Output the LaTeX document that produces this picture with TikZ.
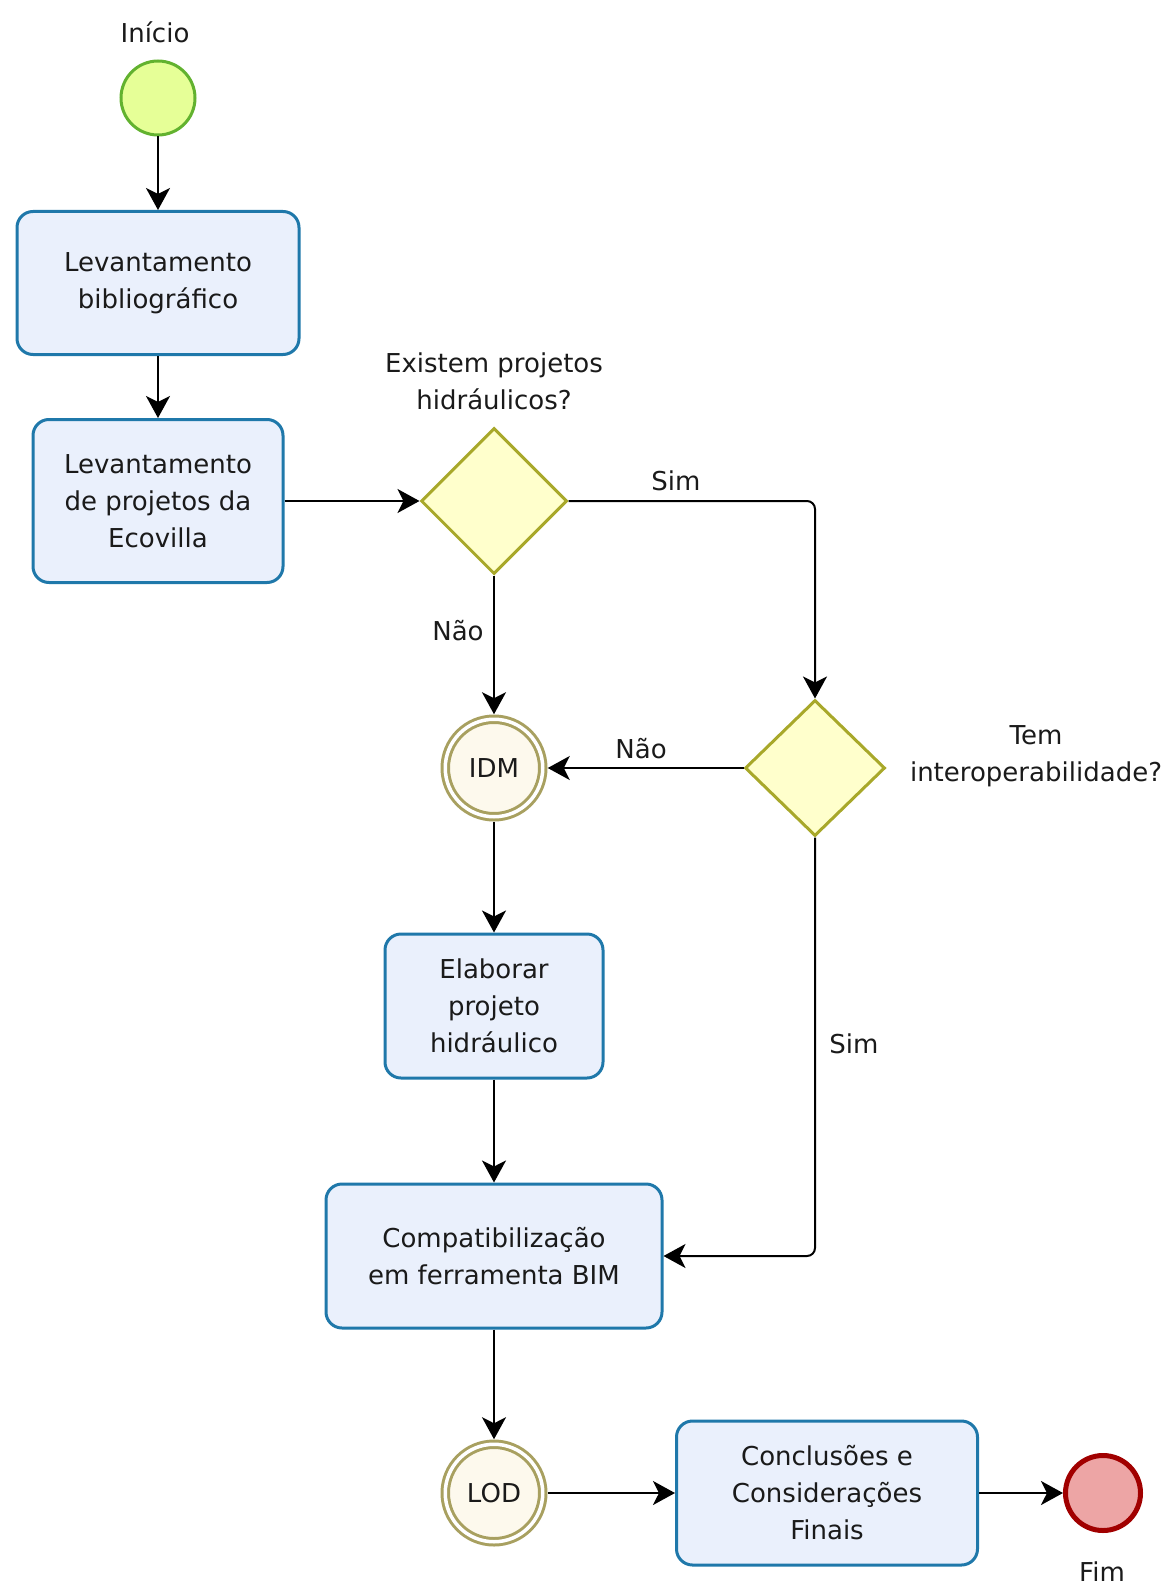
\documentclass[tikz,border=0pt]{standalone}
\usepackage{fontspec}
\setmainfont{DejaVu Sans}
\usepackage{xcolor}
\usetikzlibrary{arrows.meta,shapes.geometric}
\definecolor{TaskLine}{HTML}{1F78AA}
\definecolor{TaskFill}{HTML}{EAF0FC}
\definecolor{StartLine}{HTML}{62B22F}
\definecolor{StartFill}{HTML}{E6FF97}
\definecolor{EndLine}{HTML}{A10000}
\definecolor{EndFill}{HTML}{EDA5A5}
\definecolor{GateLine}{HTML}{A8A82A}
\definecolor{GateFill}{HTML}{FFFFCC}
\definecolor{EventLine}{HTML}{A8A060}
\definecolor{EventFill}{HTML}{FDF9ED}
\definecolor{Ink}{HTML}{1A1A1A}

\begin{document}
\begin{tikzpicture}[x=1pt,y=-1pt,
  task/.style={draw=TaskLine,fill=TaskFill,line width=3pt,rounded corners=16pt,
    align=center,text=Ink,font={\fontsize{26}{37}\selectfont}},
  gateway/.style={diamond,draw=GateLine,fill=GateFill,line width=3pt,inner sep=0pt},
  startev/.style={circle,draw=StartLine,fill=StartFill,line width=3pt,
    minimum size=74pt,inner sep=0pt},
  endev/.style={circle,draw=EndLine,fill=EndFill,line width=5pt,
    minimum size=75pt,inner sep=0pt},
  midev/.style={circle,draw=EventLine,fill=EventFill,line width=3pt,double=white,
    double distance=3.5pt,minimum size=97.5pt,inner sep=0pt,outer sep=5pt,
    text=Ink,font={\fontsize{26}{37}\selectfont}},
  arr/.style={-{Stealth[length=22pt,width=24pt,inset=6pt]},line width=2pt,draw=black},
  lbl/.style={align=center,text=Ink,font={\fontsize{26}{37}\selectfont}}
]
\useasboundingbox (0,0) rectangle (1173,1589);

% Start and literature survey.
\node[startev] (inicio) at (158,98) {};
\node[lbl] (linicio) at (155,32) {Início};
\node[task,minimum width=282pt,minimum height=143pt] (biblio) at (158,283)
  {Levantamento\\bibliográfico};
\node[task,minimum width=250pt,minimum height=163pt] (ecovilla) at (158,501)
  {Levantamento\\de projetos da\\Ecovilla};
\draw[arr] (inicio)--(biblio); \draw[arr] (biblio)--(ecovilla);

% Decisions.
\node[gateway,minimum width=146pt,minimum height=146pt] (existe) at (494,501) {};
\node[lbl] (lexiste) at (494,381) {Existem projetos\\hidráulicos?};
\node[gateway,minimum width=140pt,minimum height=136pt] (interop) at (815,768) {};
\node[lbl] (linterop) at (1036,756) {Tem\\interoperabilidade?};
\node[midev] (idm) at (494,768) {IDM};
\draw[arr] (ecovilla)--(existe);
\draw[arr,rounded corners=8pt] (existe.east) -| (interop.north);
\draw[arr] (existe)--(idm);
\draw[arr] (interop)--(idm);
\node[lbl] (lsim1) at (676,481) {Sim};
\node[lbl] (lnao1) at (458,631) {Não};
\node[lbl] (lnao2) at (641,749) {Não};

% Hydraulic project and BIM.
\node[task,minimum width=218pt,minimum height=144pt] (elaborar) at (494,1006)
  {Elaborar\\projeto\\hidráulico};
\node[task,minimum width=336pt,minimum height=144pt] (compat) at (494,1256)
  {Compatibilização\\em ferramenta BIM};
\draw[arr] (idm)--(elaborar); \draw[arr] (elaborar)--(compat);
\draw[arr,rounded corners=8pt] (interop.south) |- (compat.east);
\node[lbl] (lsim2) at (854,1044) {Sim};

% LOD and end.
\node[midev] (lod) at (494,1493) {LOD};
\node[task,minimum width=301pt,minimum height=144pt] (conclusao) at (827,1493)
  {Conclusões e\\Considerações\\Finais};
\node[endev] (fim) at (1103,1493) {};
\node[lbl] (lfim) at (1102,1572) {Fim};
\draw[arr] (compat)--(lod); \draw[arr] (lod)--(conclusao);
\draw[arr] (conclusao)--(fim);
\end{tikzpicture}
\end{document}
